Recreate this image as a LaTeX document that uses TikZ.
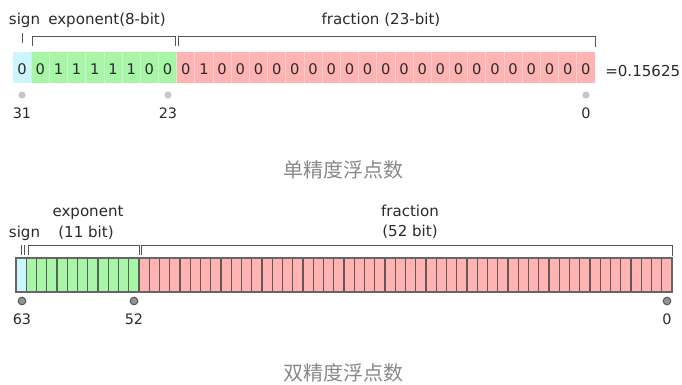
\documentclass[tikz,border=0pt]{standalone}
\usepackage{fontspec}
\setmainfont{DejaVu Sans}
\newfontfamily\cjk{Noto Sans CJK SC}
\definecolor{signc}{HTML}{CCF5FF}
\definecolor{expc}{HTML}{A8F5A8}
\definecolor{fracc}{HTML}{FFB3B3}
\definecolor{txt}{HTML}{2A2A2A}
\definecolor{brk}{HTML}{555555}
\definecolor{ttl}{HTML}{888888}
\tikzset{
  lbl/.style={inner sep=0pt, text=txt, font=\fontsize{11.3}{13}\selectfont},
  idx/.style={inner sep=0pt, text=txt, font=\fontsize{10.8}{13}\selectfont},
  bit/.style={inner sep=0pt, text=txt, font=\fontsize{11}{13}\selectfont},
  title/.style={inner sep=0pt, text=ttl, font=\cjk\fontsize{15}{18}\selectfont},
  bracket/.style={draw=brk, line width=0.75pt},
  dotA/.style={fill=black!22, draw=none},
  dotB/.style={fill=black!42, draw=black!65, line width=0.8pt},
}
\begin{document}
\begin{tikzpicture}[x=0.75pt,y=-0.75pt]
\useasboundingbox (0,0) rectangle (682,385);
% ---------- single precision ----------
\def\xa{13}\def\wa{18.1875}
\fill[signc] (\xa,52) rectangle ({\xa+\wa},83);
\fill[expc] ({\xa+\wa},52) rectangle ({\xa+9*\wa},83);
\fill[fracc] ({\xa+9*\wa},52) rectangle ({\xa+32*\wa},83);
\foreach \i in {1,...,31}{
  \draw[white, opacity=0.35, line width=0.6pt] ({\xa+\i*\wa},52) -- ({\xa+\i*\wa},83);
}
\foreach \b [count=\i from 0] in {0,0,1,1,1,1,1,0,0,0,1,0,0,0,0,0,0,0,0,0,0,0,0,0,0,0,0,0,0,0,0,0}{
  \node[bit] (sb\i) at ({\xa+(\i+0.5)*\wa},69) {\b};
}
\node[lbl, anchor=west] (sval) at (605,71) {=0.15625};
% brackets
\draw[bracket] (22.6,33) -- (22.6,43);
\draw[bracket] (32,46) -- (32,37) -- (175.5,37) -- (175.5,46);
\draw[bracket] (178,46) -- (178,37) -- (595,37) -- (595,47);
\node[lbl] (ssign) at (24.5,20) {sign};
\node[lbl] (sexp) at (107,20) {exponent(8-bit)};
\node[lbl] (sfrac) at (381,20) {fraction (23-bit)};
% index dots
\fill[dotA] (22,95) circle (3.6);
\fill[dotA] (168,95) circle (3.6);
\fill[dotA] (586,95) circle (3.6);
\node[idx] (s31) at (22,113) {31};
\node[idx] (s23) at (168,113) {23};
\node[idx] (s0) at (586,113) {0};
\node[title] (stitle) at (343,170) {单精度浮点数};
% ---------- double precision ----------
\def\xb{16}\def\wb{10.25}
\fill[signc] (\xb,258) rectangle ({\xb+\wb},292);
\fill[expc] ({\xb+\wb},258) rectangle ({\xb+12*\wb},292);
\fill[fracc] ({\xb+12*\wb},258) rectangle ({\xb+64*\wb},292);
\foreach \i in {1,...,63}{
  \draw[black!75, opacity=0.8, line width=0.8pt] ({\xb+\i*\wb},258) -- ({\xb+\i*\wb},292);
}
\draw[black!60, line width=0.9pt] (\xb,258) rectangle ({\xb+64*\wb},292);
% brackets
\draw[bracket] (21,255) -- (21,245);
\draw[bracket] (24,255) -- (24,245);
\draw[bracket] (28,255) -- (28,245) -- (139,245) -- (139,255);
\draw[bracket] (141.5,255) -- (141.5,245) -- (672,245) -- (672,256);
\node[lbl] (dsign) at (24.5,233) {sign};
\node[lbl] (dexp1) at (88,213) {exponent};
\node[lbl] (dexp2) at (86,233) {(11 bit)};
\node[lbl] (dfrac1) at (410,211) {fraction};
\node[lbl] (dfrac2) at (410,232) {(52 bit)};
\filldraw[dotB] (22,301) circle (3.8);
\filldraw[dotB] (134,301) circle (3.8);
\filldraw[dotB] (667,301) circle (3.8);
\node[idx] (d63) at (22,319) {63};
\node[idx] (d52) at (134,319) {52};
\node[idx] (d0) at (667,319) {0};
\node[title] (dtitle) at (343,373) {双精度浮点数};
\end{tikzpicture}
\end{document}
